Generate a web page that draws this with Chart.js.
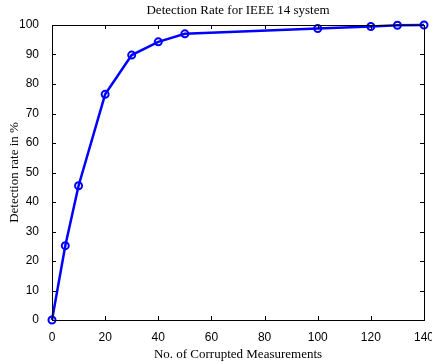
<!DOCTYPE html>
<html>
<head>
<meta charset="utf-8">
<script src="https://cdn.jsdelivr.net/npm/chart.js@4"></script>
<style>
  html, body { margin: 0; padding: 0; background: #fff; }
  #wrap { width: 432px; height: 362px; }
</style>
</head>
<body>
<div id="wrap"><canvas id="chart"></canvas></div>
<script>
// Data
const measurements = [0, 5, 10, 20, 30, 40, 50, 100, 120, 130, 140];
const detectionRate = [0, 25.2, 45.5, 76.5, 89.8, 94.3, 97, 98.8, 99.5, 99.9, 100];
const xTicks = [0, 20, 40, 60, 80, 100, 120, 140];
const yTicks = [0, 10, 20, 30, 40, 50, 60, 70, 80, 90, 100];

// Frame with inward tick marks (MATLAB style)
const boxTicks = {
  id: 'boxTicks',
  afterDraw(chart) {
    const { ctx, chartArea: a, scales } = chart;
    ctx.save();
    ctx.strokeStyle = '#000';
    ctx.lineWidth = 1;
    ctx.strokeRect(a.left + 0.5, a.top + 0.5, a.right - a.left, a.bottom - a.top);
    ctx.beginPath();
    xTicks.forEach(v => {
      const x = Math.round(scales.x.getPixelForValue(v)) + 0.5;
      ctx.moveTo(x, a.bottom); ctx.lineTo(x, a.bottom - 4);
      ctx.moveTo(x, a.top); ctx.lineTo(x, a.top + 4);
    });
    yTicks.forEach(v => {
      const y = Math.round(scales.y.getPixelForValue(v)) + 0.5;
      ctx.moveTo(a.left, y); ctx.lineTo(a.left + 4, y);
      ctx.moveTo(a.right, y); ctx.lineTo(a.right - 4, y);
    });
    ctx.stroke();
    ctx.restore();
  }
};

new Chart(document.getElementById('chart'), {
  type: 'line',
  data: {
    datasets: [{
      data: measurements.map((m, i) => ({ x: m, y: detectionRate[i] })),
      borderColor: '#0000ff',
      borderWidth: 2.5,
      pointRadius: 3.5,
      pointBorderWidth: 2,
      pointBackgroundColor: 'rgba(0,0,0,0)',
      pointBorderColor: '#0000ff',
      tension: 0,
      clip: false
    }]
  },
  options: {
    responsive: true,
    maintainAspectRatio: false,
    animation: false,
    layout: { padding: { top: 25, right: 8, left: 0, bottom: 0 } },
    plugins: {
      legend: { display: false },
      tooltip: { enabled: false },
      title: { display: false }
    },
    scales: {
      x: {
        type: 'linear',
        min: 0, max: 140,
        afterFit(scale) { scale.height = 42; scale.paddingRight = 0; },
        afterBuildTicks(scale) { scale.ticks = xTicks.map(v => ({ value: v })); },
        grid: { display: false },
        border: { display: false },
        ticks: { color: '#000', font: { family: 'Liberation Sans', size: 12 }, padding: 2, maxRotation: 0 },
        title: {
          display: true,
          text: 'No. of Corrupted Measurements',
          color: '#000',
          font: { family: 'Liberation Serif', size: 13 },
          padding: { top: 4, bottom: 0 }
        }
      },
      y: {
        min: 0, max: 100,
        afterFit(scale) { scale.width = 52; },
        afterBuildTicks(scale) { scale.ticks = yTicks.map(v => ({ value: v })); },
        grid: { display: false },
        border: { display: false },
        ticks: { color: '#000', font: { family: 'Liberation Sans', size: 12 }, padding: 5 },
        title: {
          display: true,
          text: 'Detection rate in %',
          color: '#000',
          font: { family: 'Liberation Serif', size: 13 },
          padding: { top: 7, bottom: 4 }
        }
      }
    }
  },
  plugins: [boxTicks, {
    id: 'topTitle',
    afterDraw(chart) {
      const { ctx, chartArea: a } = chart;
      ctx.save();
      ctx.fillStyle = '#000';
      ctx.font = '13px "Liberation Serif"';
      ctx.textAlign = 'center';
      ctx.textBaseline = 'middle';
      ctx.fillText('Detection Rate for IEEE 14 system', (a.left + a.right) / 2, 11);
      ctx.restore();
    }
  }]
});
</script>
</body>
</html>
